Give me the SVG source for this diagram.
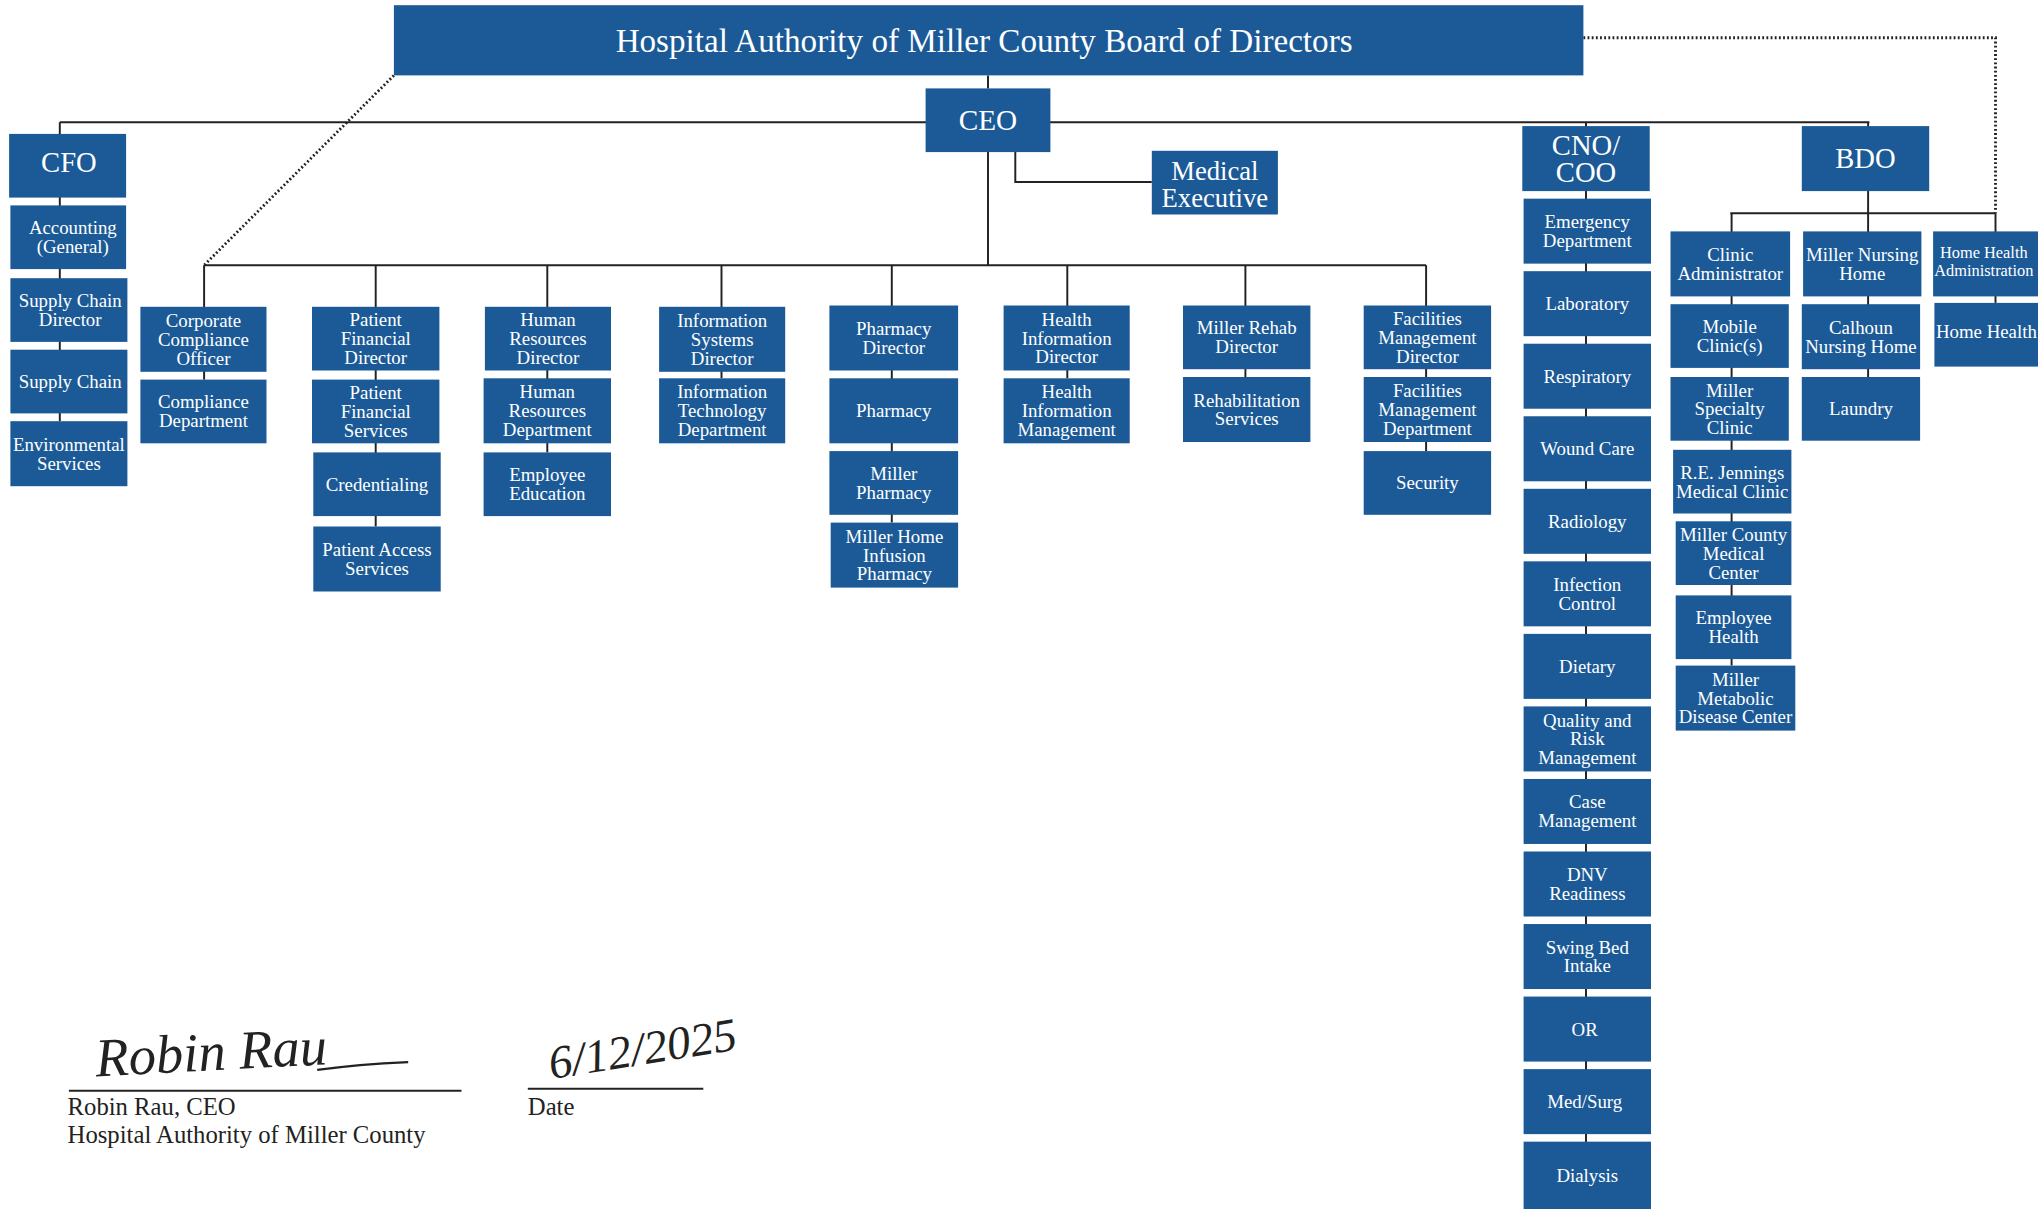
<svg xmlns="http://www.w3.org/2000/svg" width="2038" height="1209" viewBox="0 0 2038 1209">
<style>
.box{fill:#1b5a97}
.t{font-family:"Liberation Serif","Times New Roman",serif;fill:#ffffff;text-anchor:middle;font-size:14.5px}
.h{font-size:22px}
.ln{stroke:#222;stroke-width:1.5;fill:none}
.dot{stroke:#222;stroke-width:2.2;stroke-dasharray:1.4 1.8;fill:none}
.sig{font-family:"Liberation Serif","Times New Roman",serif;fill:#222;font-size:19px}
.hand{font-family:"Liberation Serif","Times New Roman",serif;font-style:italic;fill:#222}
</style>
<rect width="2038" height="1209" fill="#ffffff"/>
<g transform="scale(1.3)">
<g id="connectors">
<path class="ln" d="M760,58 V68"/>
<path class="ln" d="M46,94 H1438"/>
<path class="ln" d="M46,94 V324"/>
<path class="ln" d="M1220,94 V880"/>
<path class="ln" d="M1437,94 V290"/>
<path class="ln" d="M1331,164 H1535"/>
<path class="ln" d="M1332,164 V512"/>
<path class="ln" d="M1535,164 V233"/>
<path class="dot" d="M1218,29 H1535 V164"/>
<path class="ln" d="M760,117 V204"/>
<path class="ln" d="M781,117 V140 H886"/>
<path class="ln" d="M157,204 H1097"/>
<path class="dot" d="M303,58 L157,204"/>
<path class="ln" d="M157,204 V292"/>
<path class="ln" d="M289,204 V405"/>
<path class="ln" d="M421,204 V348"/>
<path class="ln" d="M555,204 V291"/>
<path class="ln" d="M686,204 V402"/>
<path class="ln" d="M821,204 V291"/>
<path class="ln" d="M958,204 V290"/>
<path class="ln" d="M1097,204 V347"/>
</g>

<g id="board"><rect class="box" x="303" y="4" width="915" height="54"/><text class="t" x="757" y="40" style="font-size:25.5px">Hospital Authority of Miller County Board of Directors</text></g>
<g id="ceo"><rect class="box" x="712" y="68" width="96" height="49"/><text class="t" x="760" y="100" style="font-size:22.5px">CEO</text></g>
<g id="medical-executive"><rect class="box" x="886" y="116" width="97" height="49"/><text class="t" x="934.5" y="138.5" style="font-size:20.5px">Medical<tspan x="934.5" y="159">Executive</tspan></text></g>

<g id="cfo"><rect class="box" x="7" y="103" width="90" height="49"/><text class="t h" x="53" y="132">CFO</text></g>
<g id="accounting"><rect class="box" x="8" y="158" width="89" height="49"/><text class="t" x="56" y="180.2">Accounting<tspan x="56" y="194.7">(General)</tspan></text></g>
<g id="supply-chain-director"><rect class="box" x="8" y="214" width="90" height="49"/><text class="t" x="54" y="236.2">Supply Chain<tspan x="54" y="250.7">Director</tspan></text></g>
<g id="supply-chain"><rect class="box" x="8" y="269" width="90" height="49"/><text class="t" x="54" y="298.5">Supply Chain</text></g>
<g id="environmental-services"><rect class="box" x="8" y="324" width="90" height="50"/><text class="t" x="53" y="346.7">Environmental<tspan x="53" y="361.2">Services</tspan></text></g>

<g id="corporate-compliance-officer"><rect class="box" x="108" y="236" width="97" height="50"/><text class="t" x="156.5" y="251.5">Corporate<tspan x="156.5" y="266">Compliance</tspan><tspan x="156.5" y="280.5">Officer</tspan></text></g>
<g id="compliance-department"><rect class="box" x="108" y="292" width="97" height="49"/><text class="t" x="156.5" y="314.2">Compliance<tspan x="156.5" y="328.7">Department</tspan></text></g>

<g id="patient-financial-director"><rect class="box" x="240" y="236" width="98" height="49"/><text class="t" x="289" y="251">Patient<tspan x="289" y="265.5">Financial</tspan><tspan x="289" y="280">Director</tspan></text></g>
<g id="patient-financial-services"><rect class="box" x="240" y="292" width="98" height="49"/><text class="t" x="289" y="307">Patient<tspan x="289" y="321.5">Financial</tspan><tspan x="289" y="336">Services</tspan></text></g>
<g id="credentialing"><rect class="box" x="241" y="348" width="98" height="49"/><text class="t" x="290" y="377.5">Credentialing</text></g>
<g id="patient-access-services"><rect class="box" x="241" y="405" width="98" height="50"/><text class="t" x="290" y="427.7">Patient Access<tspan x="290" y="442.2">Services</tspan></text></g>

<g id="hr-director"><rect class="box" x="373" y="236" width="97" height="49"/><text class="t" x="421.5" y="251">Human<tspan x="421.5" y="265.5">Resources</tspan><tspan x="421.5" y="280">Director</tspan></text></g>
<g id="hr-department"><rect class="box" x="372" y="291" width="98" height="50"/><text class="t" x="421" y="306.5">Human<tspan x="421" y="321">Resources</tspan><tspan x="421" y="335.5">Department</tspan></text></g>
<g id="employee-education"><rect class="box" x="372" y="348" width="98" height="49"/><text class="t" x="421" y="370.2">Employee<tspan x="421" y="384.7">Education</tspan></text></g>

<g id="is-director"><rect class="box" x="507" y="236" width="97" height="50"/><text class="t" x="555.5" y="251.5">Information<tspan x="555.5" y="266">Systems</tspan><tspan x="555.5" y="280.5">Director</tspan></text></g>
<g id="it-department"><rect class="box" x="507" y="291" width="97" height="50"/><text class="t" x="555.5" y="306.5">Information<tspan x="555.5" y="321">Technology</tspan><tspan x="555.5" y="335.5">Department</tspan></text></g>

<g id="pharmacy-director"><rect class="box" x="638" y="235" width="99" height="50"/><text class="t" x="687.5" y="257.7">Pharmacy<tspan x="687.5" y="272.2">Director</tspan></text></g>
<g id="pharmacy"><rect class="box" x="638" y="291" width="99" height="50"/><text class="t" x="687.5" y="321">Pharmacy</text></g>
<g id="miller-pharmacy"><rect class="box" x="638" y="347" width="99" height="49"/><text class="t" x="687.5" y="369.2">Miller<tspan x="687.5" y="383.7">Pharmacy</tspan></text></g>
<g id="miller-home-infusion"><rect class="box" x="639" y="402" width="98" height="50"/><text class="t" x="688" y="417.5">Miller Home<tspan x="688" y="432">Infusion</tspan><tspan x="688" y="446.5">Pharmacy</tspan></text></g>

<g id="hi-director"><rect class="box" x="772" y="235" width="97" height="50"/><text class="t" x="820.5" y="250.5">Health<tspan x="820.5" y="265">Information</tspan><tspan x="820.5" y="279.5">Director</tspan></text></g>
<g id="him"><rect class="box" x="772" y="291" width="97" height="50"/><text class="t" x="820.5" y="306.5">Health<tspan x="820.5" y="321">Information</tspan><tspan x="820.5" y="335.5">Management</tspan></text></g>

<g id="rehab-director"><rect class="box" x="910" y="235" width="98" height="49"/><text class="t" x="959" y="257.2">Miller Rehab<tspan x="959" y="271.7">Director</tspan></text></g>
<g id="rehab-services"><rect class="box" x="910" y="290" width="98" height="50"/><text class="t" x="959" y="312.7">Rehabilitation<tspan x="959" y="327.2">Services</tspan></text></g>

<g id="fm-director"><rect class="box" x="1049" y="235" width="98" height="49"/><text class="t" x="1098" y="250">Facilities<tspan x="1098" y="264.5">Management</tspan><tspan x="1098" y="279">Director</tspan></text></g>
<g id="fm-department"><rect class="box" x="1049" y="290" width="98" height="50"/><text class="t" x="1098" y="305.5">Facilities<tspan x="1098" y="320">Management</tspan><tspan x="1098" y="334.5">Department</tspan></text></g>
<g id="security"><rect class="box" x="1049" y="347" width="98" height="49"/><text class="t" x="1098" y="376.5">Security</text></g>

<g id="cno-coo"><rect class="box" x="1171" y="97" width="98" height="50"/><text class="t h" x="1220" y="119">CNO/<tspan x="1220" y="140">COO</tspan></text></g>
<g id="emergency"><rect class="box" x="1172" y="152.8" width="98" height="50"/><text class="t" x="1221" y="175.5">Emergency<tspan x="1221" y="190">Department</tspan></text></g>
<g id="laboratory"><rect class="box" x="1172" y="208.6" width="98" height="50"/><text class="t" x="1221" y="238.6">Laboratory</text></g>
<g id="respiratory"><rect class="box" x="1172" y="264.4" width="98" height="50"/><text class="t" x="1221" y="294.4">Respiratory</text></g>
<g id="wound-care"><rect class="box" x="1172" y="320.2" width="98" height="50"/><text class="t" x="1221" y="350.2">Wound Care</text></g>
<g id="radiology"><rect class="box" x="1172" y="376" width="98" height="50"/><text class="t" x="1221" y="406">Radiology</text></g>
<g id="infection-control"><rect class="box" x="1172" y="431.8" width="98" height="50"/><text class="t" x="1221" y="454.5">Infection<tspan x="1221" y="469">Control</tspan></text></g>
<g id="dietary"><rect class="box" x="1172" y="487.6" width="98" height="50"/><text class="t" x="1221" y="517.6">Dietary</text></g>
<g id="quality-risk"><rect class="box" x="1172" y="543.4" width="98" height="50"/><text class="t" x="1221" y="558.9">Quality and<tspan x="1221" y="573.4">Risk</tspan><tspan x="1221" y="587.9">Management</tspan></text></g>
<g id="case-management"><rect class="box" x="1172" y="599.2" width="98" height="50"/><text class="t" x="1221" y="621.9">Case<tspan x="1221" y="636.4">Management</tspan></text></g>
<g id="dnv-readiness"><rect class="box" x="1172" y="655" width="98" height="50"/><text class="t" x="1221" y="677.7">DNV<tspan x="1221" y="692.2">Readiness</tspan></text></g>
<g id="swing-bed"><rect class="box" x="1172" y="710.8" width="98" height="50"/><text class="t" x="1221" y="733.5">Swing Bed<tspan x="1221" y="748">Intake</tspan></text></g>
<g id="or"><rect class="box" x="1172" y="766.6" width="98" height="50"/><text class="t" x="1219" y="796.6">OR</text></g>
<g id="med-surg"><rect class="box" x="1172" y="822.4" width="98" height="50"/><text class="t" x="1219" y="852.4">Med/Surg</text></g>
<g id="dialysis"><rect class="box" x="1172" y="878.2" width="98" height="60"/><text class="t" x="1221" y="909">Dialysis</text></g>

<g id="bdo"><rect class="box" x="1386" y="97" width="98" height="50"/><text class="t h" x="1435" y="129">BDO</text></g>
<g id="clinic-administrator"><rect class="box" x="1285" y="178" width="92" height="50"/><text class="t" x="1331" y="200.7">Clinic<tspan x="1331" y="215.2">Administrator</tspan></text></g>
<g id="mobile-clinics"><rect class="box" x="1285" y="234" width="91" height="49"/><text class="t" x="1330.5" y="256.2">Mobile<tspan x="1330.5" y="270.7">Clinic(s)</tspan></text></g>
<g id="miller-specialty-clinic"><rect class="box" x="1285" y="290" width="91" height="49"/><text class="t" x="1330.5" y="305">Miller<tspan x="1330.5" y="319.5">Specialty</tspan><tspan x="1330.5" y="334">Clinic</tspan></text></g>
<g id="re-jennings"><rect class="box" x="1287" y="346" width="91" height="49"/><text class="t" x="1332.5" y="368.2">R.E. Jennings<tspan x="1332.5" y="382.7">Medical Clinic</tspan></text></g>
<g id="miller-county-medical-center"><rect class="box" x="1289" y="401" width="89" height="49"/><text class="t" x="1333.5" y="416">Miller County<tspan x="1333.5" y="430.5">Medical</tspan><tspan x="1333.5" y="445">Center</tspan></text></g>
<g id="employee-health"><rect class="box" x="1289" y="458" width="89" height="49"/><text class="t" x="1333.5" y="480.2">Employee<tspan x="1333.5" y="494.7">Health</tspan></text></g>
<g id="miller-metabolic"><rect class="box" x="1289" y="512" width="92" height="50"/><text class="t" x="1335" y="527.5">Miller<tspan x="1335" y="542">Metabolic</tspan><tspan x="1335" y="556.5">Disease Center</tspan></text></g>
<g id="miller-nursing-home"><rect class="box" x="1387" y="178" width="91" height="50"/><text class="t" x="1432.5" y="200.7">Miller Nursing<tspan x="1432.5" y="215.2">Home</tspan></text></g>
<g id="calhoun-nursing-home"><rect class="box" x="1386" y="234" width="91" height="50"/><text class="t" x="1431.5" y="256.7">Calhoun<tspan x="1431.5" y="271.2">Nursing Home</tspan></text></g>
<g id="laundry"><rect class="box" x="1386" y="290" width="91" height="49"/><text class="t" x="1431.5" y="319.5">Laundry</text></g>
<g id="home-health-administration"><rect class="box" x="1487" y="178" width="84" height="50"/><text class="t" x="1526" y="198.5" style="font-size:12.6px">Home Health<tspan x="1526" y="212">Administration</tspan></text></g>
<g id="home-health"><rect class="box" x="1488" y="233" width="83" height="49"/><text class="t" x="1528" y="260">Home Health</text></g>

<g id="signature">
<text class="hand" x="74" y="828" style="font-size:42px" transform="rotate(-3 74 828)">Robin Rau</text>
<path d="M244,823 C266,820 292,818 314,817" stroke="#222" stroke-width="1.8" fill="none"/>
<path class="ln" d="M53,839 H355"/>
<text class="sig" x="52" y="858">Robin Rau, CEO</text>
<text class="sig" x="52" y="879">Hospital Authority of Miller County</text>
<text class="hand" x="424" y="830" style="font-size:36px" transform="rotate(-9 424 830)">6/12/2025</text>
<path class="ln" d="M406,837.5 H541"/>
<text class="sig" x="406" y="858">Date</text>
</g>
</g>
</svg>
